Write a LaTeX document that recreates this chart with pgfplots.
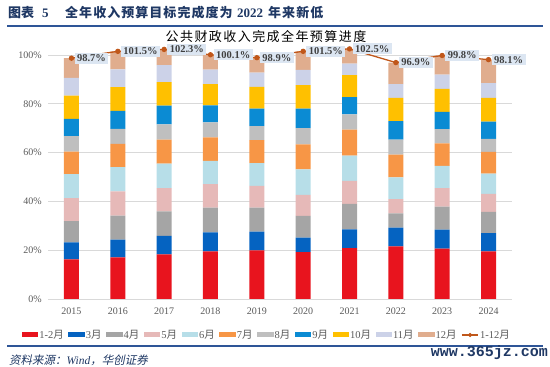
\documentclass[border=0pt]{standalone}
\usepackage{fontspec}
\setmainfont{Liberation Serif}
\newfontfamily\cjk{Noto Sans CJK SC}
\newfontfamily\cjkt{Noto Sans CJK SC}[LetterSpace=8]
\newfontfamily\cjkit{Noto Sans CJK SC}[FakeSlant=0.2]
\newfontfamily\cjktitle{Noto Sans CJK SC}[LetterSpace=11]
\newfontfamily\wm{Liberation Mono}
\usepackage{pgfplots}
\pgfplotsset{compat=1.18}
\usepackage{pgfplotstable}
\definecolor{c1}{HTML}{E8141E}
\definecolor{c2}{HTML}{0563C1}
\definecolor{c3}{HTML}{A5A5A5}
\definecolor{c4}{HTML}{E6B9B8}
\definecolor{c5}{HTML}{B7DEE8}
\definecolor{c6}{HTML}{F79646}
\definecolor{c7}{HTML}{BFBFBF}
\definecolor{c8}{HTML}{0B8BD3}
\definecolor{c9}{HTML}{FFC000}
\definecolor{c10}{HTML}{CCD2E8}
\definecolor{c11}{HTML}{E0AD8E}
\definecolor{cl}{HTML}{C0571A}
\definecolor{lbl}{HTML}{DCE6F2}
\definecolor{lbltext}{HTML}{404040}
\definecolor{navy}{HTML}{1F3864}
\definecolor{rulec}{HTML}{2E5597}
\definecolor{gridc}{HTML}{D9D9D9}
\definecolor{tickc}{HTML}{595959}
\newcommand{\yue}{{\cjk 月}}
\pgfplotstableread{
x a b c d e f g h i j k tot
0 16.2 7.0 8.7 9.4 9.9 9.2 6.4 7.0 9.6 7.2 8.1 98.7
1 17.1 7.2 9.9 9.9 9.9 9.6 6.1 7.4 9.7 7.3 7.4 101.5
2 18.3 7.6 10.0 9.5 10.1 9.8 6.3 7.7 9.6 6.9 6.5 102.3
3 19.5 7.8 10.1 9.7 9.5 9.6 6.2 7.0 8.7 5.9 6.1 100.1
4 19.9 7.7 9.8 9.0 9.3 9.4 5.8 7.1 8.9 5.9 6.1 98.9
5 19.2 6.0 8.9 8.6 10.4 10.3 6.6 8.0 9.7 6.2 7.6 101.5
6 20.9 7.6 10.5 9.4 10.4 10.6 6.3 7.0 9.1 4.7 6.0 102.5
7 21.6 7.6 5.9 5.8 8.9 9.4 6.1 7.6 9.5 5.7 8.8 96.9
8 20.6 7.8 9.5 7.5 9.2 9.2 5.8 7.1 9.4 5.9 7.8 99.8
9 19.5 7.5 8.7 7.4 8.3 8.9 5.3 7.1 9.7 6.1 9.6 98.1
}\data
\pgfplotsset{
  common/.style={
    at={(48.3pt,68pt)}, anchor=south west, scale only axis,
    width=463.4pt, height=244pt, xmin=-0.5, xmax=9.5, ymin=0, ymax=100,
    clip=false, axis line style={draw=none}, tick style={draw=none},
    /pgf/number format/assume math mode=true,
  }
}
\begin{document}
\begin{tikzpicture}
\useasboundingbox (0,0) rectangle (550pt,367pt);
\begin{axis}[common,
  ybar stacked, bar width=15pt,
  ytick={0,20,40,60,80,100},
  yticklabel={\pgfmathprintnumber{\tick}\%},
  ymajorgrids, grid style={draw=gridc, line width=0.9pt},
  xtick={0,...,9}, xticklabels={2015,2016,2017,2018,2019,2020,2021,2022,2023,2024},
  ticklabel style={font=\fontsize{10}{11}\selectfont, text=tickc},
  yticklabel style={xshift=-3pt},
  xticklabel style={yshift=-5pt},
  legend columns=12,
  legend style={at={(0.47,-0.1475)}, anchor=center, draw=none, fill=none,
    font=\fontsize{10.5}{11}\selectfont, text=tickc, inner sep=0pt,
    /tikz/every odd column/.append style={column sep=0.5pt},
    /tikz/every even column/.append style={column sep=4pt},
    nodes={inner sep=0.5pt}},
  legend image code/.code={\fill[#1,draw=none] (0pt,-2.5pt) rectangle (16.5pt,2.5pt);},
]
\addplot[fill=c1, draw=none] table[x=x,y=a]{\data};
\addplot[fill=c2, draw=none] table[x=x,y=b]{\data};
\addplot[fill=c3, draw=none] table[x=x,y=c]{\data};
\addplot[fill=c4, draw=none] table[x=x,y=d]{\data};
\addplot[fill=c5, draw=none] table[x=x,y=e]{\data};
\addplot[fill=c6, draw=none] table[x=x,y=f]{\data};
\addplot[fill=c7, draw=none] table[x=x,y=g]{\data};
\addplot[fill=c8, draw=none] table[x=x,y=h]{\data};
\addplot[fill=c9, draw=none] table[x=x,y=i]{\data};
\addplot[fill=c10, draw=none] table[x=x,y=j]{\data};
\addplot[fill=c11, draw=none] table[x=x,y=k]{\data};
\addlegendimage{cl,
  legend image code/.code={\draw[cl, line width=1.3pt] (0pt,0pt) -- (16.5pt,0pt); \fill[cl] (8.25pt,0pt) circle (1.9pt);}}
\legend{1-2\yue,3\yue,4\yue,5\yue,6\yue,7\yue,8\yue,9\yue,10\yue,11\yue,12\yue,1-12\yue}
\end{axis}
\begin{axis}[common, axis lines=none, xtick=\empty, ytick=\empty]
\addplot[cl, line width=1.3pt, mark=*, mark size=2pt,
  nodes near coords={\pgfmathprintnumber[fixed,fixed zerofill,precision=1]{\pgfplotspointmeta}\%},
  point meta=explicit,
  every node near coord/.append style={anchor=west, xshift=2.5pt, fill=lbl, text=lbltext,
    font=\bfseries\fontsize{10.5}{12}\selectfont, inner xsep=2.5pt, inner ysep=2pt}]
  table[x=x, y=tot, meta=tot]{\data};
\end{axis}
\begin{scope}[every node/.style={anchor=base west, inner sep=0pt, text=navy, font=\bfseries\fontsize{13}{14}\selectfont}]
\node at (8pt,349pt) {\cjk 图表};
\node at (42pt,349pt) {5};
\node at (65pt,349pt) {\cjkt 全年收入预算目标完成度为};
\node at (237pt,349pt) {2022};
\node at (268pt,349pt) {\cjkt 年来新低};
\end{scope}
\draw[rulec, line width=2pt] (7pt,341pt) -- (543pt,341pt);
\node[inner sep=0pt, text=black] at (266pt,330pt) {\cjktitle\fontsize{13}{14}\selectfont 公共财政收入完成全年预算进度};
\draw[rulec, line width=1.2pt] (7pt,21pt) -- (543pt,21pt);
\node[anchor=west, inner sep=0pt, text=navy] at (9pt,7pt)
  {\fontsize{11.5}{12}\selectfont {\cjkit 资料来源：}\textit{Wind}{\cjkit ，华创证券}};
\node[anchor=east, inner sep=0pt, text=navy] at (548pt,14.4pt)
  {\wm\bfseries\fontsize{15}{16}\selectfont www.365jz.com};
\end{tikzpicture}
\end{document}
